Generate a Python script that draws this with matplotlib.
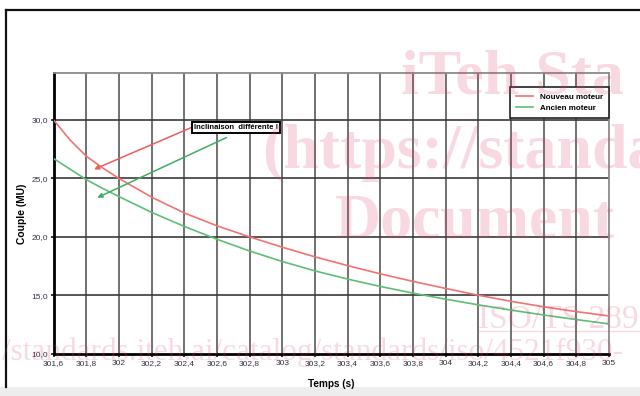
import matplotlib
matplotlib.use("Agg")
import matplotlib.pyplot as plt
from matplotlib.lines import Line2D
from matplotlib.patches import Rectangle

plt.rcParams['font.family'] = ['Liberation Sans', 'DejaVu Sans']

# Temps (s) et couple mesuré (MU)
temps = [301.6, 301.7, 301.8, 301.9, 302.0, 302.2, 302.4, 302.6, 302.8, 303.0,
         303.2, 303.4, 303.6, 303.8, 304.0, 304.2, 304.4, 304.6, 304.8, 305.0]
nouveau_moteur = [30.0, 28.3, 26.9, 25.9, 25.0, 23.4, 22.05, 20.95, 20.0, 19.12,
                  18.3, 17.55, 16.85, 16.2, 15.6, 15.02, 14.5, 14.03, 13.62, 13.25]
ancien_moteur = [26.7, 25.8, 24.9, 24.15, 23.45, 22.1, 20.9, 19.8, 18.8, 17.9,
                 17.1, 16.4, 15.77, 15.2, 14.68, 14.2, 13.75, 13.33, 12.94, 12.57]

x_ticks = [301.6, 301.8, 302.0, 302.2, 302.4, 302.6, 302.8, 303.0, 303.2, 303.4,
           303.6, 303.8, 304.0, 304.2, 304.4, 304.6, 304.8, 305.0]
x_labels = ["301,6", "301,8", "302", "302,2", "302,4", "302,6", "302,8", "303", "303,2",
            "303,4", "303,6", "303,8", "304", "304,2", "304,4", "304,6", "304,8", "305"]
y_ticks = [10, 15, 20, 25, 30]
y_labels = ["10,0", "15,0", "20,0", "25,0", "30,0"]

W, H = 640, 396
fig = plt.figure(figsize=(W / 100, H / 100), dpi=100)
fig.patch.set_facecolor('white')

# outer frame and bottom strip
fig.add_artist(Rectangle((0, 0), 1, 9 / H, transform=fig.transFigure,
                         facecolor='#ededed', edgecolor='none', zorder=0))
fig.add_artist(Line2D([6 / W, 6 / W], [1 - 10 / H, 9 / H], transform=fig.transFigure,
                      color='#111111', lw=1.6))
fig.add_artist(Line2D([6 / W, 1.0], [1 - 10 / H, 1 - 10 / H], transform=fig.transFigure,
                      color='#111111', lw=1.6))

left, right, top, bottom = 53.5, 609, 73, 354
ax = fig.add_axes([left / W, 1 - bottom / H, (right - left) / W, (bottom - top) / H])

ax.set_xlim(301.6, 305.0)
ax.set_ylim(10, 34)

# grid
for xv in x_ticks[1:-1]:
    ax.axvline(xv, color='#4a4a4a', lw=1.1, zorder=1)
for yv in y_ticks[1:]:
    ax.axhline(yv, color='#3a3a3a', lw=1.2, zorder=1)

ax.plot(temps, nouveau_moteur, color='#f27272', lw=1.2, label='Nouveau moteur', zorder=3)
ax.plot(temps, ancien_moteur, color='#5fbd78', lw=1.2, label='Ancien moteur', zorder=3)

ax.set_xticks(x_ticks)
ax.set_xticklabels(x_labels)
ax.set_yticks(y_ticks)
ax.set_yticklabels(y_labels)
ax.tick_params(axis='both', labelsize=6, colors='#111111', labelcolor='#333344',
               length=2.5, width=1.2, pad=1.5)

for s in ('left', 'bottom'):
    ax.spines[s].set_color('black')
    ax.spines[s].set_linewidth(2.0)
for s in ('top', 'right'):
    ax.spines[s].set_color('#8a8a8a')
    ax.spines[s].set_linewidth(1.3)

ax.set_xlabel('Temps (s)', fontsize=7.2, fontweight='bold', labelpad=9)
ax.set_ylabel('Couple (MU)', fontsize=7.4, fontweight='bold', labelpad=3)

leg = ax.legend(loc='upper right', bbox_to_anchor=(1.0, 0.95), borderaxespad=0,
                prop={'size': 5.8, 'weight': 'bold'}, handlelength=2.2,
                handletextpad=0.8, borderpad=0.75, labelspacing=0.4,
                fancybox=False, framealpha=1, edgecolor='#222222')
leg.get_frame().set_linewidth(1.2)
leg.set_zorder(5)

# annotation
ax.annotate('', xy=(301.848, 25.77), xytext=(302.445, 29.35),
            arrowprops=dict(arrowstyle='-|>', color='#ee5c5c', lw=1.1,
                            mutation_scale=7, shrinkA=0, shrinkB=0), zorder=4)
ax.annotate('', xy=(301.868, 23.35), xytext=(302.659, 28.49),
            arrowprops=dict(arrowstyle='-|>', color='#3fae62', lw=1.1,
                            mutation_scale=7, shrinkA=0, shrinkB=0), zorder=4)
ax.text(302.715, 29.33, 'Inclinaison  différente !', fontsize=5.5, fontweight='bold',
        ha='center', va='center', zorder=6,
        bbox=dict(boxstyle='square,pad=0.25', facecolor='white', edgecolor='black', lw=1.4))

# document watermark
wm = dict(color='#e0446a', alpha=0.2, transform=fig.transFigure, zorder=10,
          family=['Liberation Serif', 'DejaVu Serif'])
fig.text(401 / W, 1 - 93 / H, 'iTeh Sta', fontsize=46, fontweight='bold', **wm)
fig.text(262 / W, 1 - 168 / H, '(https://standa', fontsize=46, fontweight='bold', **wm)
fig.text(335 / W, 1 - 237 / H, 'Document', fontsize=46, fontweight='bold', **wm)
fig.text(478 / W, 1 - 328 / H, 'ISO/TS 289', fontsize=24, **wm)
fig.add_artist(Line2D([478 / W, 1.0], [1 - 331 / H, 1 - 331 / H], transform=fig.transFigure,
                      color='#e0446a', alpha=0.2, lw=1, zorder=10))
fig.text(2 / W, 1 - 360 / H, '/standards.iteh.ai/catalog/standards/iso/4521f930-',
         fontsize=22.5, **wm)

fig.savefig('out.png', dpi=100)
